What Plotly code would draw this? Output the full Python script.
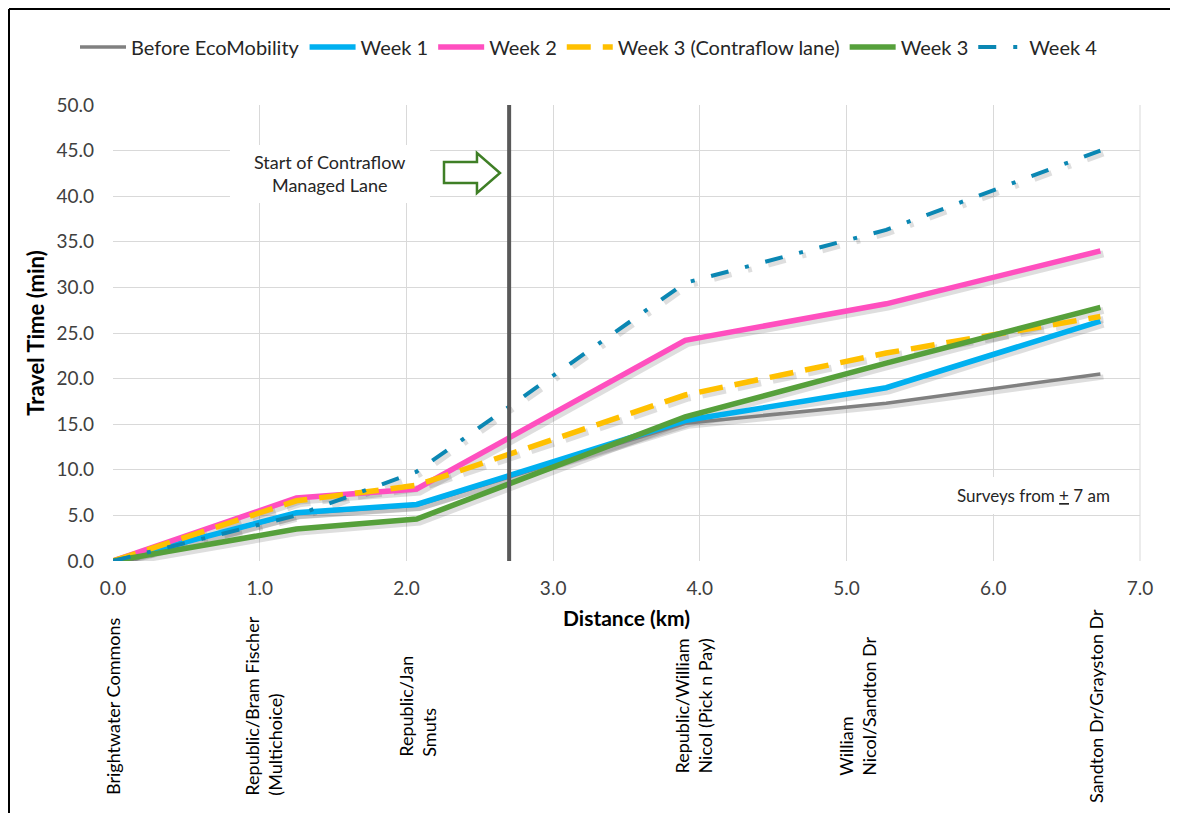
import plotly.graph_objects as go

# ---------------- data ----------------
distance_km = [0.0, 1.25, 2.07, 3.90, 5.27, 6.73]
before_eco = [0.0, 5.2, 6.1, 15.1, 17.3, 20.5]
week1 = [0.0, 5.3, 6.2, 15.4, 19.0, 26.3]
week2 = [0.0, 6.9, 7.9, 24.2, 28.2, 34.0]
week3_contraflow = [0.0, 6.6, 8.3, 18.2, 22.8, 26.8]
week3 = [0.0, 3.5, 4.6, 15.8, 21.7, 27.8]
week4 = [0.0, 5.0, 9.8, 30.5, 36.3, 45.0]

series_names = ["Before EcoMobility", "Week 1", "Week 2",
                "Week 3 (Contraflow lane)", "Week 3", "Week 4"]
stop_labels = ["Brightwater Commons",
               "Republic/Bram Fischer<br>(Multichoice)",
               "Republic/Jan<br>Smuts",
               "Republic/William<br>Nicol (Pick n Pay)",
               "William<br>Nicol/Sandton Dr",
               "Sandton Dr/Grayston Dr"]
contraflow_start_km = 2.7

X_RANGE = [0, 7]
Y_RANGE = [0, 50]

# ---------------- styles ----------------
colors = ["#808080", "#00b0f0", "#ff4fbf", "#ffc000", "#56a03b", "#0b87b3"]
widths = [3.5, 5.5, 5.5, 5.5, 5.5, 4]
dashes = ["solid", "solid", "solid", "24px,12px", "solid", "18px,17px,4px,17px"]
label_x = [0.0, 1.02, 2.07, 3.95, 5.07, 6.70]

FONT = "Lato"

# page body has an 8px margin; figure sized to fit the 1178x821 window
OFF = 8
W, H = 1178 - 2 * OFF, 821 - 2 * OFF
# plot area in window pixel coordinates
L, R, T, B = 113, 1140, 105, 561
KM_PX = (R - L) / (X_RANGE[1] - X_RANGE[0])
MIN_PX = (B - T) / (Y_RANGE[1] - Y_RANGE[0])
SHADOW_PX = 3


def px_to_paper(px, py):
    return (px - L) / (R - L), (B - py) / (B - T)


fig = go.Figure()
all_series = [before_eco, week1, week2, week3_contraflow, week3, week4]

# drop shadows (drawn on the base axes, which sit below the overlay axes)
for ys, w, d in zip(all_series, widths, dashes):
    fig.add_trace(go.Scatter(
        x=distance_km, y=ys, mode="lines", showlegend=False, hoverinfo="skip",
        line=dict(color="rgba(60,60,60,0.17)", width=w + 1.5, dash=d),
        xaxis="x2", yaxis="y2",
    ))

for name, ys, c, w, d in zip(series_names, all_series, colors, widths, dashes):
    fig.add_trace(go.Scatter(
        x=distance_km, y=ys, mode="lines", name=name,
        line=dict(color=c, width=w, dash=d),
        xaxis="x3", yaxis="y3",
    ))

# contraflow start line
fig.add_shape(type="line", xref="x", yref="y",
              x0=contraflow_start_km, x1=contraflow_start_km, y0=0, y1=50,
              line=dict(color="#595959", width=4))

# text box "Start of Contraflow Managed Lane"
bx0, by0 = px_to_paper(230, 203)
bx1, by1 = px_to_paper(430, 145)
fig.add_shape(type="rect", xref="paper", yref="paper",
              x0=bx0, y0=by0, x1=bx1, y1=by1,
              fillcolor="white", line=dict(width=0), layer="above")
cx, cy = px_to_paper(329, 173)
fig.add_annotation(xref="paper", yref="paper", x=cx, y=cy,
                   text="Start of Contraflow<br>Managed Lane", showarrow=False,
                   font=dict(family=FONT, size=18, color="#262626"),
                   align="center", xanchor="center", yanchor="middle")

# block arrow (outline)
pts = [(444, 162), (477, 162), (477, 153), (500, 173), (477, 193), (477, 183), (444, 183)]
ppts = [px_to_paper(x, y) for x, y in pts]
path = "M " + " L ".join(f"{x:.4f},{y:.4f}" for x, y in ppts) + " Z"
fig.add_shape(type="path", xref="paper", yref="paper", path=path,
              fillcolor="white", line=dict(color="#3f7f26", width=2.5), layer="above")

# "Surveys from ± 7 am" box
sx0, sy0 = px_to_paper(933, 514)
sx1, sy1 = px_to_paper(1139, 477)
fig.add_shape(type="rect", xref="paper", yref="paper",
              x0=sx0, y0=sy0, x1=sx1, y1=sy1,
              fillcolor="white", line=dict(width=0), layer="above")
tx, ty = px_to_paper(1033, 495)
fig.add_annotation(xref="paper", yref="paper", x=tx, y=ty,
                   text="Surveys from <u>+</u> 7 am", showarrow=False,
                   font=dict(family=FONT, size=17, color="#262626"),
                   xanchor="center", yanchor="middle")

# rotated stop labels
_, ly = px_to_paper(0, 706)
for lx, lab in zip(label_x, stop_labels):
    fig.add_annotation(xref="x", yref="paper", x=lx, y=ly, text=lab,
                       textangle=-90, showarrow=False, align="left",
                       font=dict(family=FONT, size=18, color="#000000"),
                       xanchor="center", yanchor="middle")

# outer frame (top + left)
fx0, fy_top = px_to_paper(OFF + 1, OFF + 1)
_, fy_bot = px_to_paper(OFF + 1, 830)
fx1, _ = px_to_paper(1190, OFF + 1)
fig.add_shape(type="line", xref="paper", yref="paper", x0=fx0, x1=fx0,
              y0=fy_bot, y1=fy_top, line=dict(color="black", width=2))
fig.add_shape(type="line", xref="paper", yref="paper", x0=fx0, x1=fx1,
              y0=fy_top, y1=fy_top, line=dict(color="black", width=2))

dx = SHADOW_PX / KM_PX
dy = SHADOW_PX / MIN_PX

lgx, lgy = px_to_paper(589, 47)
fig.update_layout(
    width=W, height=H,
    margin=dict(l=L - OFF, r=(W + OFF) - R, t=T - OFF, b=(H + OFF) - B),
    paper_bgcolor="white", plot_bgcolor="white",
    font=dict(family=FONT, size=16, color="#404040"),
    showlegend=True,
    legend=dict(orientation="h", x=lgx, y=lgy, xanchor="center", yanchor="middle",
                font=dict(family=FONT, size=20, color="#262626"),
                itemwidth=46, tracegroupgap=0, bgcolor="rgba(0,0,0,0)"),
    xaxis=dict(range=X_RANGE, dtick=1, tick0=0, tickformat=".1f",
               showgrid=True, gridcolor="#d9d9d9", gridwidth=1,
               zeroline=False, showline=False, ticks="",
               ticklabelstandoff=14,
               tickfont=dict(family=FONT, size=19, color="#404040"),
               title=dict(text="<b>Distance (km)</b>", standoff=13,
                          font=dict(family=FONT, size=21, color="#000000"))),
    yaxis=dict(range=Y_RANGE, dtick=5, tick0=0, tickformat=".1f",
               showgrid=True, gridcolor="#d9d9d9", gridwidth=1,
               zeroline=False, showline=False, ticks="",
               ticklabelstandoff=18,
               tickfont=dict(family=FONT, size=19, color="#404040"),
               title=dict(text="<b>Travel Time (min)</b>", standoff=5,
                          font=dict(family=FONT, size=22, color="#000000"))),
    xaxis2=dict(range=[X_RANGE[0] - dx, X_RANGE[1] - dx], overlaying="x",
                visible=False, fixedrange=True),
    yaxis2=dict(range=[Y_RANGE[0] + dy, Y_RANGE[1] + dy], overlaying="y",
                visible=False, fixedrange=True),
    xaxis3=dict(range=X_RANGE, overlaying="x", visible=False),
    yaxis3=dict(range=Y_RANGE, overlaying="y", visible=False),
)
fig.add_shape(type="line", xref="paper", yref="paper", x0=1, x1=1, y0=0, y1=1,
              line=dict(color="#d9d9d9", width=1), layer="below")

fig.write_html("out.html")
